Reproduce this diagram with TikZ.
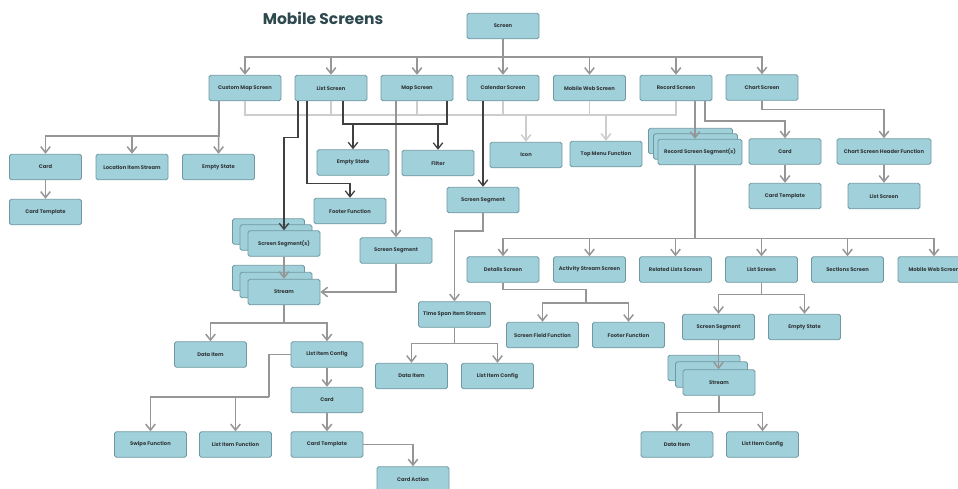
\documentclass[tikz,border=0pt]{standalone}
\usepackage{fontspec}
\setmainfont{Poppins}
\usetikzlibrary{arrows.meta}
\definecolor{boxfill}{RGB}{160,209,219}
\definecolor{boxline}{RGB}{112,152,162}
\definecolor{txt}{RGB}{50,55,58}
\definecolor{gline}{RGB}{150,150,150}
\definecolor{lline}{RGB}{205,205,205}
\definecolor{dline}{RGB}{64,64,64}
\definecolor{titlec}{RGB}{45,72,78}
\tikzset{
  bx/.style={draw=boxline, fill=boxfill, rounded corners=1.8pt, line width=0.9pt,
    minimum width=72pt, minimum height=25.5pt, inner sep=1pt,
    font=\fontsize{5.2}{6}\selectfont\bfseries, text=txt, align=center},
  gl/.style={draw=gline, line width=1.5pt},
  garr/.style={gl, -{Straight Barb[length=6pt,width=9.5pt]}},
  ll/.style={draw=lline, line width=1.5pt},
  larr/.style={ll, -{Straight Barb[length=6pt,width=9.5pt]}},
  dl/.style={draw=dline, line width=1.3pt},
  darr/.style={dl, -{Straight Barb[length=6pt,width=9.5pt]}},
}
\begin{document}
\begin{tikzpicture}[x=1pt,y=-1pt]
\useasboundingbox (0,0) rectangle (958,488);
\fill[white] (0,0) rectangle (958,488);
\clip (0,0) rectangle (958,488);

\node[font=\fontsize{15.5}{17}\selectfont\bfseries, text=titlec] (title) at (323,18) {Mobile Screens};

% row 0/1
\node[bx] (screen) at (503,26) {Screen};
\node[bx] (cms) at (245,88) {Custom Map Screen};
\node[bx] (ls1) at (331,88) {List Screen};
\node[bx] (ms) at (417,88) {Map Screen};
\node[bx] (cal) at (503,88) {Calendar Screen};
\node[bx] (mws1) at (589.5,88) {Mobile Web Screen};
\node[bx] (rs) at (676,88) {Record Screen};
\node[bx] (chs) at (762,87.5) {Chart Screen};

% left group
\node[bx] (card1) at (45.5,167) {Card};
\node[bx] (lis) at (132,167) {Location Item Stream};
\node[bx] (es1) at (218.5,167) {Empty State};
\node[bx] (ct1) at (45.5,212) {Card Template};

% second row
\node[bx] (es2) at (353,162.5) {Empty State};
\node[bx] (filt) at (438,163) {Filter};
\node[bx] (icon) at (526,155) {Icon};
\node[bx] (tmf) at (606,154) {Top Menu Function};
\node[bx, minimum width=84pt] (rssb) at (690.5,141) {};
\node[bx, minimum width=84pt] (rssm) at (695.5,146.5) {};
\node[bx, minimum width=84pt] (rss) at (700,152) {Record Screen Segment(s)};
\node[bx] (card2) at (785,151.5) {Card};
\node[bx, minimum width=94pt] (chf) at (884,151.5) {Chart Screen Header Function};
\node[bx] (ct2) at (785,196) {Card Template};
\node[bx] (ls2) at (884,196) {List Screen};

\node[bx] (ff1) at (350,211) {Footer Function};
\node[bx] (sscal) at (483,200) {Screen Segment};
\node[bx] (ssmap) at (396,250.5) {Screen Segment};
\node[bx] (ssegb) at (268.5,231.5) {};
\node[bx] (ssegm) at (276,237.5) {};
\node[bx] (sseg) at (284,243.5) {Screen Segment(s)};
\node[bx] (stb) at (268.5,278) {};
\node[bx] (stm) at (276,285) {};
\node[bx] (st) at (284,292) {Stream};

% record sub row
\node[bx] (det) at (503,269.5) {Details Screen};
\node[bx] (act) at (589.5,269.5) {Activity Stream Screen};
\node[bx] (rel) at (675.5,269.5) {Related Lists Screen};
\node[bx] (ls3) at (761.5,269.5) {List Screen};
\node[bx] (sec) at (847.5,269.5) {Sections Screen};
\node[bx] (mws2) at (934,269.5) {Mobile Web Screen};

\node[bx] (tsis) at (454.5,314.5) {Time Span Item Stream};
\node[bx] (sff) at (542.5,335) {Screen Field Function};
\node[bx] (ff2) at (628.5,335) {Footer Function};
\node[bx] (sseg2) at (718.5,327) {Screen Segment};
\node[bx] (es3) at (804.5,327) {Empty State};
\node[bx] (st2b) at (704,368) {};
\node[bx] (st2m) at (711.5,374.5) {};
\node[bx] (st2) at (719,382.5) {Stream};
\node[bx] (di3) at (677,444.5) {Data Item};
\node[bx] (lic3) at (762.5,444.5) {List Item Config};

\node[bx] (di2) at (411.5,376) {Data Item};
\node[bx] (lic2) at (497.5,376) {List Item Config};

\node[bx] (di1) at (210.5,354.5) {Data Item};
\node[bx] (lic1) at (327,354.5) {List Item Config};
\node[bx] (card3) at (327,400) {Card};
\node[bx] (ct3) at (327,444.5) {Card Template};
\node[bx] (sw) at (150.5,444.5) {Swipe Function};
\node[bx] (lif) at (235.5,444.5) {List Item Function};
\node[bx] (ca) at (413,479.5) {Card Action};

% bus coordinates
\coordinate (lbus) at (245,115);
\coordinate (dbus) at (343,124);
\coordinate (dj) at (586,303);
\coordinate (lj) at (269,397);

% light gray network
\draw[ll] (cms.south) -- (cms.south |- lbus) -- (rs.south |- lbus) -- (rs.south);
\foreach \n in {ls1,ms,cal,mws1} \draw[ll] (\n.south) -- (\n.south |- lbus);
\draw[larr] (icon.north |- lbus) -- (icon.north);
\draw[larr] (tmf.north |- lbus) -- (tmf.north);

% gray connectors
\foreach \n in {cms,ls1,ms,cal,mws1,rs,chs} \draw[garr] (screen.south) -- ++(0,18) -| (\n.north);
\draw[garr] ([xshift=-26pt]cms.south) -- (es1.north);
\draw[garr] ([xshift=-26pt]cms.south) -- ++(0,35) -| (lis.north);
\draw[garr] ([xshift=-26pt]cms.south) -- ++(0,35) -| (card1.north);
\draw[garr] (card1) -- (ct1);
\draw[garr] ([xshift=-21pt]ms.south) -- (ssmap.north);
\draw[garr] (chs.south) -- ++(0,9) -| (chf.north);
\draw[garr] (chf) -- (ls2);
\draw[garr] ([xshift=19pt]rs.south) -- ([xshift=19pt]rs.south |- rss.north);
\draw[garr] ([xshift=29pt]rs.south) -- ++(0,20) -| (card2.north);
\draw[garr] (card2) -- (ct2);
\foreach \n in {det,act,rel,ls3,sec,mws2} \draw[garr] ([xshift=-5pt]rss.south) -- ++(0,73.5) -| (\n.north);
\draw[garr] (sscal.south) -- ++(0,18) -| (tsis.north);
\draw[garr] (tsis.south) -- ++(0,16) -| (di2.north);
\draw[garr] (tsis.south) -- ++(0,16) -| (lic2.north);
\draw[gl] (det.south) -- ++(0,7) -| (dj);
\draw[garr] (dj) -| (sff.north);
\draw[garr] (dj) -| (ff2.north);
\draw[garr] (ls3.south) -- ++(0,12) -| (sseg2.north);
\draw[garr] (ls3.south) -- ++(0,12) -| (es3.north);
\draw[garr] (sseg2.south) -- (st2.north -| sseg2.south);
\draw[garr] (st2.south) -- ++(0,17) -| (di3.north);
\draw[garr] (st2.south) -- ++(0,17) -| (lic3.north);
\draw[garr] (sseg) -- (st);
\draw[garr] (ssmap.south) |- (st.east);
\draw[garr] (st.south) -- ++(0,18) -| (di1.north);
\draw[garr] (st.south) -- ++(0,18) -| (lic1.north);
\draw[gl] (lic1.west) -| (lj);
\draw[garr] (lj) -| (sw.north);
\draw[garr] (lj) -| (lif.north);
\draw[garr] (lic1) -- (card3);
\draw[garr] (card3) -- (ct3);
\draw[garr] (ct3.east) -| (ca.north);

% dark connectors
\draw[darr] ([xshift=-33pt]ls1.south) -- ++(0,36) -| (sseg.north);
\draw[darr] ([xshift=-24pt]ls1.south) -- ++(0,82) -| (ff1.north);
\draw[dl] ([xshift=12pt]ls1.south) -- (dbus) -| ([xshift=30pt]ms.south);
\draw[darr] (es2.north |- dbus) -- (es2.north);
\draw[darr] (filt.north |- dbus) -- (filt.north);
\draw[darr] ([xshift=-20pt]cal.south) -- (sscal.north);
\end{tikzpicture}
\end{document}
